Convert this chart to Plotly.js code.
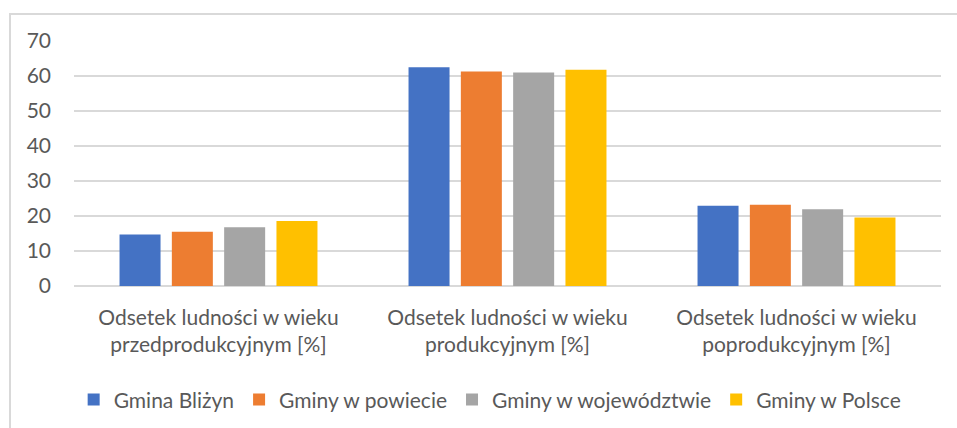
<!DOCTYPE html>
<html>
<head>
<meta charset="utf-8">
<script src="https://cdn.plot.ly/plotly-3.0.1.min.js"></script>
<style>
html,body{margin:0;padding:0;background:#fff;}
#frame{position:absolute;left:9px;top:13px;width:1000px;height:500px;border-left:2px solid #d9d9d9;border-top:2px solid #d9d9d9;box-sizing:border-box;}
#chart{position:absolute;left:0;top:0;width:957px;height:428px;}
</style>
</head>
<body>
<div id="frame"></div>
<div id="chart"></div>
<script>
const categories = [
  "Odsetek ludności w wieku<br>przedprodukcyjnym [%]",
  "Odsetek ludności w wieku<br>produkcyjnym [%]",
  "Odsetek ludności w wieku<br>poprodukcyjnym [%]"
];
const seriesNames = ["Gmina Bliżyn", "Gminy w powiecie", "Gminy w województwie", "Gminy w Polsce"];
const gminaBlizyn = [14.7, 62.5, 22.9];
const gminyPowiat = [15.5, 61.3, 23.2];
const gminyWoj = [16.8, 61.0, 21.9];
const gminyPolska = [18.6, 61.8, 19.6];
const yTicks = [0, 10, 20, 30, 40, 50, 60, 70];

const colors = ["#4472c4", "#ed7d31", "#a5a5a5", "#ffc000"];
const values = [gminaBlizyn, gminyPowiat, gminyWoj, gminyPolska];

const traces = values.map((v, i) => ({
  type: "bar",
  name: seriesNames[i],
  x: categories,
  y: v,
  marker: {color: colors[i]},
  hoverinfo: "y+name"
}));

const font = {family: "Lato, 'Open Sans', sans-serif", size: 21, color: "#595959"};

const layout = {
  width: 957, height: 428,
  margin: {l: 74, r: 16, t: 41, b: 142, autoexpand: false},
  paper_bgcolor: "rgba(0,0,0,0)",
  plot_bgcolor: "rgba(0,0,0,0)",
  barmode: "group",
  bargap: 0.276,
  bargroupgap: 0.216,
  font: font,
  showlegend: true,
  legend: {
    orientation: "h",
    x: 0.48, xanchor: "center",
    y: -0.465, yanchor: "middle",
    font: font,
    traceorder: "normal"
  },
  xaxis: {
    type: "category",
    showgrid: false,
    zeroline: false,
    showline: false,
    ticks: "",
    tickfont: font,
    ticklabelstandoff: 17
  },
  yaxis: {
    range: [0, 70],
    tickvals: yTicks,
    ticktext: yTicks.map(String),
    showgrid: true,
    gridcolor: "#d9d9d9",
    gridwidth: 1.5,
    zeroline: true,
    zerolinecolor: "#d9d9d9",
    zerolinewidth: 1.5,
    showline: false,
    ticks: "",
    tickfont: font,
    ticklabelstandoff: 22
  }
};

Plotly.newPlot("chart", traces, layout, {displayModeBar: false, staticPlot: true});
</script>
</body>
</html>
